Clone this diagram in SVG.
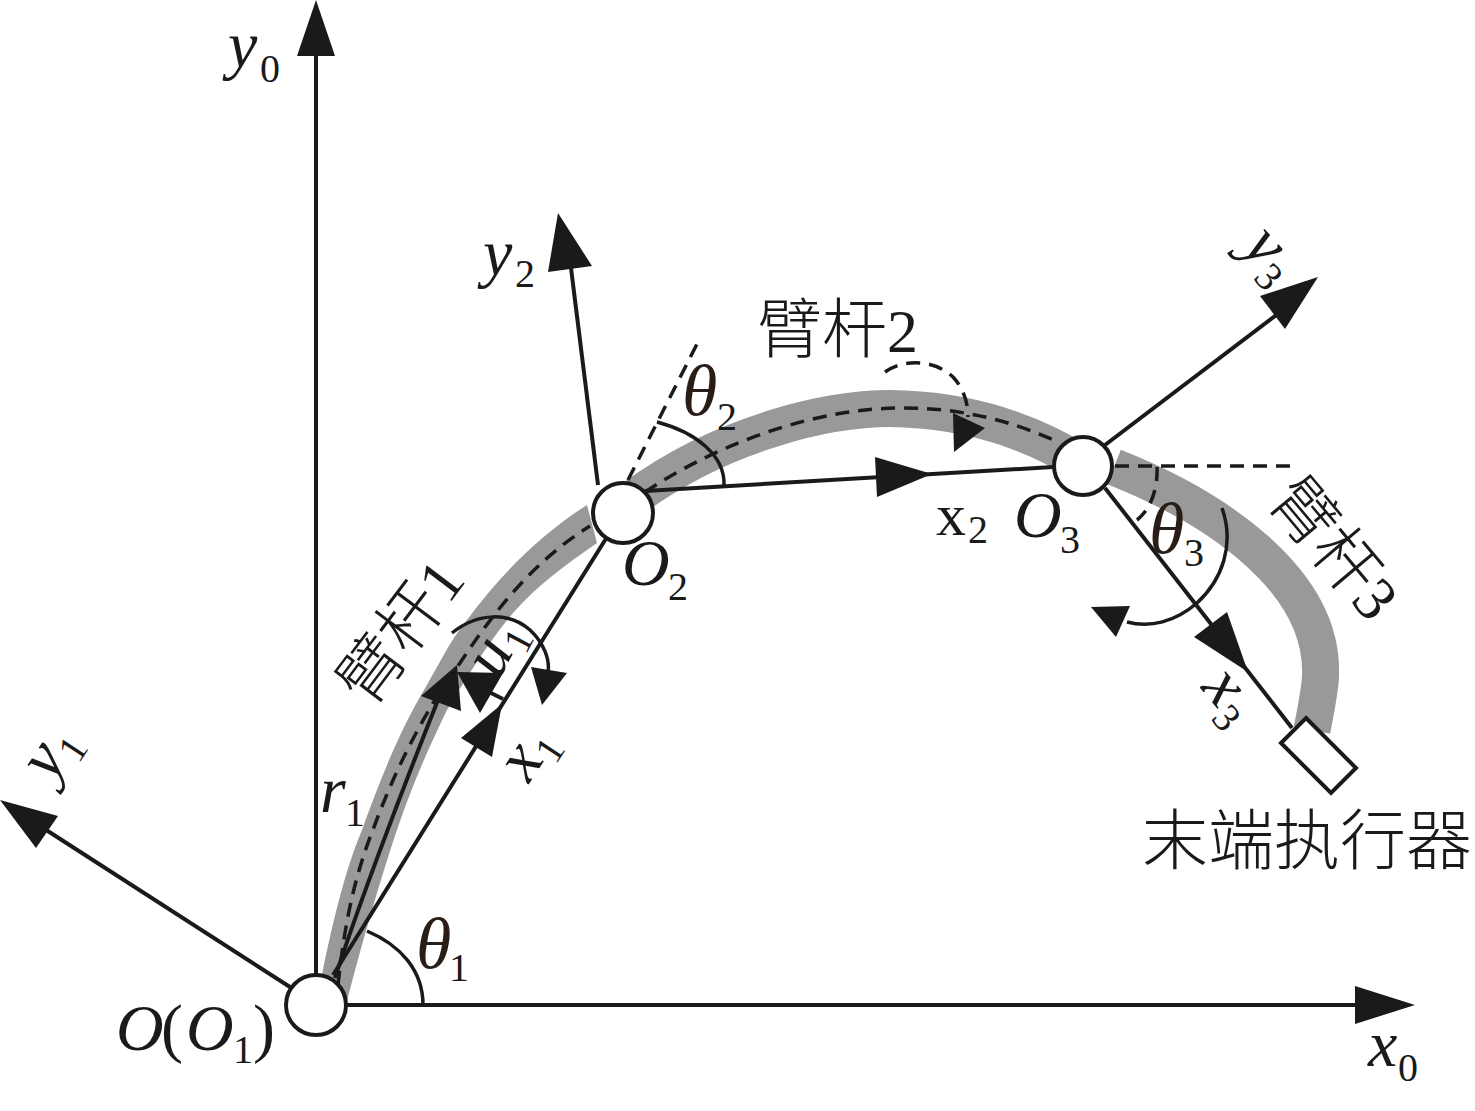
<svg xmlns="http://www.w3.org/2000/svg" width="1475" height="1111" viewBox="0 0 1475 1111">
<style>
text{font-family:"Liberation Serif","Noto Sans CJK SC",serif;fill:#1a1a1a}
.m{font-style:italic;font-size:66px}
.p{font-size:66px}
.u{font-size:60px}
.s{font-size:40px}
.t{fill:#2a1d18;font-style:italic;font-size:72px}
.c{font-family:"Noto Sans CJK SC","Liberation Serif",sans-serif;font-size:65px;font-weight:300}
.e{font-size:66px}
.d{font-family:"Liberation Serif",serif;font-size:62px}
.l{fill:none;stroke:#1a1a1a;stroke-width:4}
.th{fill:none;stroke:#1a1a1a;stroke-width:3.5}
.da{fill:none;stroke:#1a1a1a;stroke-width:3.5;stroke-dasharray:14 9}
.g{fill:none;stroke:#999;stroke-width:37}
.a{fill:#1a1a1a;stroke:none}
.n{fill:#fff;stroke:#1a1a1a;stroke-width:4}
</style>
<g id="arms">
<path fill="#999" d="M322 975C332 925 345 870 362 830C378 785 398 735 420 697C435 672 450 640 467 620C500 575 540 535 587 505L597 543C565 565 538 585 513 613C490 640 465 680 447 710C430 745 412 785 397 830C380 880 360 950 346 1005Z"/>
<path class="g" d="M635 497C720 435 830 405 905 409C970 412 1030 430 1085 465"/>
<path class="g" d="M1114 467C1210 505 1330 580 1320 683C1318 700 1315 715 1312 730"/>
</g>
<g id="connectors">
<path class="l" d="M316 974V50"/><path class="a" d="M316 0L335 56H297Z"/>
<path class="l" d="M346 1005H1360"/><path class="a" d="M1415 1005L1355 1024V986Z"/>
<path class="l" d="M290 987L40 826"/><path class="a" d="M0 800L58 816L36 848Z"/>
<path class="l" d="M333 975L607 537"/><path class="a" d="M502 704L492 757L461 738Z"/>
<path class="l" d="M335 978C360 900 410 770 440 695"/><path class="a" d="M457 665L461 711L421 696Z"/>
<path class="l" d="M503 699L485 690"/><path class="a" d="M457 672L503 673L480 713Z"/>
<path class="th" d="M452 633C478 612 510 612 530 630C544 643 550 660 548 672"/><path class="a" d="M531 667L567 673L542 705Z"/>
<path class="da" d="M338 985C345 920 355 875 374 827C395 770 425 710 460 663C495 610 535 560 590 526"/>
<path class="da" d="M645 492C700 455 800 408 903 408C960 408 1010 420 1058 442"/>
<path class="l" d="M645 491L1053 467"/><path class="a" d="M932 474L877 497L875 457Z"/>
<path class="l" d="M598 485L571 268"/><path class="a" d="M558 213L592 266L548 272Z"/>
<path class="l" d="M1105 445L1283 310"/><path class="a" d="M1318 277L1285 329L1260 296Z"/>
<path class="da" d="M628 480L700 338"/>
<path class="th" d="M657 422C695 432 725 455 724 485"/>
<path class="th" d="M367 931C400 945 423 970 423 1005"/>
<path class="da" d="M885 372C905 358 935 360 953 377C965 390 968 405 968 417"/><path class="a" d="M953 413L985 428L954 452Z"/>
<path class="da" d="M1115 466H1292"/>
<path class="da" d="M1157 467C1158 490 1150 510 1137 520"/>
<path class="l" d="M1105 488L1292 728"/><path class="a" d="M1248 672L1194 637L1227 612Z"/>
<path class="th" d="M1222 508C1235 545 1222 580 1197 603C1175 622 1150 628 1127 622"/><path class="a" d="M1091 607L1130 606L1116 637Z"/>
</g>
<g id="node-O1"><circle class="n" cx="316" cy="1005" r="30"/></g>
<g id="node-O2"><circle class="n" cx="623" cy="513" r="30"/></g>
<g id="node-O3"><circle class="n" cx="1083" cy="466" r="29"/></g>
<g id="node-effector"><path class="n" d="M1306 718L1356 768L1331 793L1281 743Z"/></g>
<g id="labels">
<text class="m" x="228" y="67">y</text><text class="s" x="260" y="82">0</text>
<text class="m" x="1368" y="1066">x</text><text class="s" x="1398" y="1081">0</text>
<text class="m" x="116" y="1050">O</text><text class="p" x="161" y="1050">(</text><text class="m" x="186" y="1050">O</text><text class="s" x="233" y="1063">1</text><text class="p" x="253" y="1050">)</text>
<text class="m" x="320" y="812">r</text><text class="s" x="345" y="826">1</text>
<text class="t" x="416" y="968">θ</text><text class="s" x="449" y="981">1</text>
<text class="m" x="483" y="275">y</text><text class="s" x="515" y="287">2</text>
<text class="m" x="622" y="585">O</text><text class="s" x="668" y="600">2</text>
<text class="t" x="682" y="415">θ</text><text class="s" x="717" y="430">2</text>
<text class="u" x="936" y="535">x</text><text class="s" x="968" y="543">2</text>
<text class="m" x="1014" y="537">O</text><text class="s" x="1060" y="553">3</text>
<text class="t" x="1149" y="553">θ</text><text class="s" x="1184" y="566">3</text>
<g transform="translate(529 784) rotate(-57)"><text class="m">x</text><text class="s" x="30" y="12">1</text></g>
<g transform="translate(499 680) rotate(-62)"><text class="m">u</text><text class="s" x="34" y="12">1</text></g>
<g transform="translate(52 783) rotate(-57)"><text class="m">y</text><text class="s" x="30" y="12">1</text></g>
<g transform="translate(1241 248) rotate(48)"><text class="m">y</text><text class="s" x="30" y="12">3</text></g>
<g transform="translate(1200 688) rotate(50)"><text class="m">x</text><text class="s" x="30" y="12">3</text></g>
<text class="c" transform="translate(370 709) rotate(-53)">臂杆<tspan class="d">1</tspan></text>
<text class="c" x="757" y="352">臂杆<tspan class="d">2</tspan></text>
<text class="c" transform="translate(1266 501) rotate(50)">臂杆<tspan class="d">3</tspan></text>
<text class="c e" x="1142" y="864">末端执行器</text>
</g>
</svg>
